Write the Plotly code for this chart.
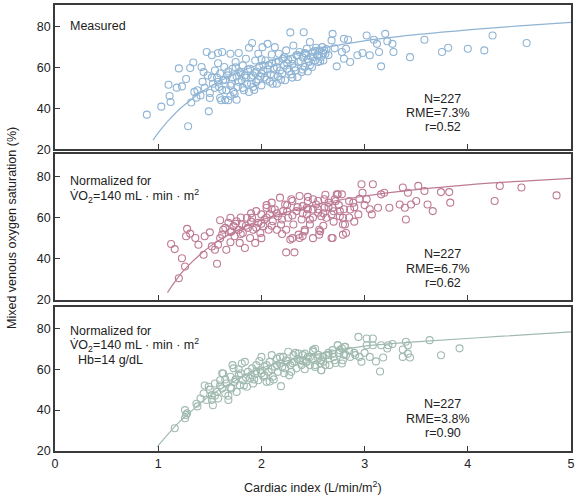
import plotly.graph_objects as go

# ---------------- Data ----------------
# Panel 1: Measured
meas_x = [0.89, 1.03, 1.10, 1.11, 1.12, 1.18, 1.20, 1.23, 1.27, 1.29, 1.31, 1.32, 1.34, 1.35, 1.37, 1.38,
          1.41, 1.42, 1.43, 1.44, 1.47, 1.49, 1.50, 1.52, 1.53, 1.55, 1.57, 1.58, 1.59, 1.61, 1.62, 1.63,
          1.64, 1.66, 1.67, 1.68, 1.70, 1.71, 1.72, 1.73, 1.75, 1.76, 1.76, 1.77, 1.78, 1.79, 1.81, 1.82,
          1.83, 1.84, 1.85, 1.86, 1.88, 1.89, 1.90, 1.91, 1.92, 1.94, 1.94, 1.95, 1.97, 1.98, 1.99, 2.00,
          2.01, 2.02, 2.04, 2.05, 2.06, 2.07, 2.09, 2.10, 2.11, 2.12, 2.13, 2.14, 2.16, 2.17, 2.18, 2.19,
          2.21, 2.22, 2.23, 2.24, 2.25, 2.26, 2.28, 2.29, 2.30, 2.31, 2.33, 2.34, 2.35, 2.36, 2.37, 2.39,
          2.40, 2.41, 2.42, 2.43, 2.44, 2.46, 2.47, 2.48, 2.49, 2.50, 2.52, 2.53, 2.54, 2.55, 2.56, 2.58,
          2.59, 2.60, 2.61, 2.62, 2.68, 2.69, 2.71, 2.73, 2.78, 2.80, 2.80, 2.82, 2.84, 2.86, 2.93, 2.98,
          3.02, 3.05, 3.09, 3.12, 3.14, 3.16, 3.20, 3.22, 3.27, 3.28, 3.44, 3.58, 3.75, 3.81, 4.00, 4.16,
          4.24, 4.57,
          1.52, 1.55, 1.58, 1.60, 1.62, 1.65, 1.68, 1.70, 1.72, 1.74, 1.78, 1.80, 1.82, 1.85, 1.87, 1.90,
          1.92, 1.95, 1.97, 2.00, 2.02, 2.03, 2.06, 2.08, 2.10, 2.12, 2.15, 2.17, 2.20, 2.22, 2.25, 2.27,
          2.30, 2.32, 2.35, 2.38, 2.40, 2.42, 2.45, 2.47, 2.50, 2.52, 2.55, 2.57, 2.60, 2.63, 2.65, 1.45,
          1.48, 1.50, 1.60, 1.65, 1.70, 1.58, 1.75, 2.00, 2.15, 2.30, 2.45, 1.88, 1.93]
meas_y = [36.9, 40.8, 51.5, 46.0, 43.1, 50.1, 59.5, 50.7, 54.3, 31.2, 59.7, 42.8, 62.4, 48.0, 45.2, 48.8,
          46.3, 60.2, 53.0, 57.7, 67.5, 38.5, 47.5, 65.9, 52.0, 58.5, 55.0, 67.0, 50.4, 43.9, 67.5, 53.7,
          60.2, 48.8, 56.1, 43.9, 66.7, 52.0, 59.3, 48.0, 62.6, 44.2, 55.6, 50.4, 67.0, 57.7, 53.7, 61.0,
          48.8, 56.1, 64.2, 52.0, 69.6, 59.3, 55.0, 71.9, 50.4, 63.4, 57.2, 52.8, 66.7, 60.2, 55.6, 51.2,
          69.9, 58.5, 63.4, 54.0, 71.5, 61.0, 56.6, 66.3, 52.0, 59.3, 69.9, 62.6, 55.6, 66.7, 58.5, 54.0,
          64.2, 61.0, 53.7, 68.3, 59.3, 63.7, 77.1, 56.6, 61.8, 70.7, 58.5, 65.9, 55.3, 62.6, 67.5, 57.7,
          64.9, 77.2, 60.2, 66.7, 69.1, 62.6, 72.4, 65.2, 60.2, 67.5, 63.4, 69.6, 65.9, 62.6, 68.3, 65.2,
          69.9, 63.4, 68.3, 66.7, 73.2, 76.4, 69.3, 60.5, 67.5, 64.2, 74.0, 69.1, 73.5, 62.6, 65.9, 67.0,
          75.6, 65.9, 73.5, 71.5, 67.5, 60.5, 76.4, 72.8, 71.5, 67.5, 65.0, 73.5, 67.5, 69.6, 69.1, 68.3,
          75.6, 71.9,
          55, 50, 53, 57, 49, 54, 58, 51, 55, 47, 53, 57, 50, 55, 59, 52,
          56, 58, 54, 57, 61, 55, 59, 53, 62, 56, 60, 63, 57, 65, 62, 58,
          64, 60, 66, 63, 59, 67, 64, 61, 65, 68, 66, 63, 67, 69, 66, 50,
          56, 45, 45, 44, 46, 62, 60, 64, 52, 55, 58, 48, 49]

# Panel 2: Normalized for VO2
nv_x = [1.125, 1.16, 1.23, 1.26, 1.20, 1.28, 1.27, 1.31, 1.36, 1.39, 1.45, 1.50, 1.44, 1.52, 1.55, 1.57,
        1.58, 1.60, 1.62, 1.63, 1.66, 1.68, 1.70, 1.71, 1.73, 1.74, 1.76, 1.78, 1.79, 1.81, 1.82, 1.84,
        1.86, 1.87, 1.89, 1.91, 1.92, 1.94, 1.95, 1.97, 1.99, 2.00, 2.02, 2.03, 2.05, 2.07, 2.08, 2.10,
        2.11, 2.13, 2.15, 2.16, 2.18, 2.19, 2.21, 2.23, 2.24, 2.24, 2.26, 2.28, 2.29, 2.31, 2.32, 2.34,
        2.36, 2.37, 2.39, 2.40, 2.42, 2.44, 2.45, 2.47, 2.50, 2.53, 2.57, 2.58, 2.61, 2.65, 2.68, 2.69,
        2.71, 2.74, 2.76, 2.78, 2.79, 2.81,
        2.44, 2.50, 2.55, 2.61, 2.63, 2.68, 2.69, 2.73, 2.76, 2.79, 2.82, 2.86, 2.89, 2.94, 2.97, 2.98,
        3.02, 3.07, 3.08, 3.13, 3.16, 3.19, 3.24, 3.34, 3.37, 3.39, 3.40, 3.42, 3.45, 3.50, 3.52, 3.58,
        3.61, 3.66, 3.74, 3.82, 3.83, 4.26, 4.31, 4.52, 4.86, 2.37, 2.42, 2.56, 2.56, 2.79, 2.47,
        1.65, 1.70, 1.75, 1.80, 1.85, 1.90, 1.95, 2.00, 2.05, 2.10, 2.15, 2.20, 2.25, 2.30, 2.35, 2.40,
        2.45, 2.50, 2.55, 2.60, 2.65, 2.70, 2.75, 2.80, 2.85, 2.90, 2.95, 3.00, 2.20, 2.30, 2.40, 2.50,
        2.60, 2.70, 1.60, 1.70, 2.00, 2.10, 2.25, 2.45, 2.62, 2.72, 1.80, 1.90, 2.05, 2.30, 2.55, 2.85,
        2.90, 3.05]
nv_y = [47.2, 44.7, 40.3, 36.3, 30.6, 54.5, 50.9, 52.2, 50.1, 46.8, 50.9, 52.8, 42.0, 46.0, 44.4, 37.6,
        46.8, 58.7, 51.7, 54.1, 44.4, 57.4, 59.9, 53.3, 55.8, 50.9, 58.2, 54.1, 47.7, 56.6, 52.5, 45.2,
        59.9, 55.0, 50.1, 59.9, 54.1, 47.7, 63.1, 57.4, 52.5, 61.5, 55.8, 59.0, 64.7, 54.1, 61.5, 67.2,
        58.2, 63.9, 54.1, 60.6, 69.6, 56.6, 63.1, 66.3, 43.1, 54.1, 59.9, 49.3, 68.8, 56.6, 43.1, 63.1,
        51.7, 70.4, 59.0, 65.5, 54.1, 61.5, 68.0, 56.6, 63.9, 66.3, 53.3, 60.6, 64.7, 67.2, 61.5, 50.1,
        68.8, 71.2, 63.1, 71.2, 59.9, 56.6,
        64.7, 68.8, 62.3, 68.8, 59.9, 50.1, 64.7, 71.2, 60.6, 51.7, 52.5, 63.9, 67.2, 61.5, 76.1, 72.0,
        68.8, 61.5, 76.1, 64.7, 71.2, 72.0, 64.7, 66.3, 74.5, 64.7, 59.0, 72.0, 66.3, 68.0, 75.3, 72.8,
        66.3, 63.1, 72.3, 72.3, 67.2, 68.0, 75.3, 74.5, 70.7, 50.1, 53.3, 54.1, 51.7, 56.6, 59.0,
        55, 53, 57, 52, 56, 58, 55, 57, 60, 56, 62, 59, 63, 61, 65, 62,
        64, 60, 64, 62, 65, 63, 66, 64, 68, 65, 69, 66, 52, 50, 51, 50,
        56, 58, 50, 48, 50, 64, 66, 70, 71, 68, 60, 62, 66, 68, 68, 60,
        58, 64]

# Panel 3: Normalized for VO2 and Hb
nh_x = [1.16, 1.26, 1.27, 1.28, 1.26, 1.37, 1.38, 1.41, 1.44, 1.47, 1.49, 1.52, 1.53, 1.55, 1.57, 1.58,
        1.60, 1.62, 1.63, 1.65, 1.66, 1.68, 1.70, 1.71, 1.73, 1.74, 1.76, 1.78, 1.79, 1.81, 1.82, 1.84,
        1.86, 1.87, 1.89, 1.91, 1.92, 1.94, 1.95, 1.97, 1.99, 2.00, 2.02, 2.03, 2.05, 2.07, 2.08, 2.10,
        2.11, 2.13, 2.15, 2.16, 2.18, 2.19, 2.21, 2.23, 2.24, 2.26, 2.28, 2.29, 2.31, 2.32, 2.34, 2.36,
        2.37, 2.39, 2.40, 2.44, 2.47, 2.50, 2.52, 2.55, 2.58, 2.60, 2.63, 2.66, 2.69, 2.71, 2.74, 2.76,
        2.78, 2.81, 2.82,
        2.42, 2.50, 2.43, 2.52, 2.58, 2.58, 2.65, 2.69, 2.74, 2.78, 2.79, 2.81, 2.86, 2.91, 2.94, 2.97,
        3.02, 3.02, 3.08, 3.08, 3.11, 3.15, 3.16, 3.18, 3.22, 3.23, 3.27, 3.37, 3.40, 3.42, 3.44, 3.63,
        3.74, 3.92, 3.42, 3.37,
        1.50, 1.55, 1.60, 1.65, 1.70, 1.75, 1.80, 1.85, 1.90, 1.95, 2.00, 2.05, 2.10, 2.15, 2.20, 2.25,
        2.30, 2.35, 2.40, 2.45, 2.50, 2.55, 2.60, 2.65, 2.70, 2.75, 2.80, 2.85, 2.90, 1.62, 1.72, 1.98,
        2.12, 2.27, 2.42, 2.62, 2.33, 2.52, 1.45, 1.52, 1.78, 2.08, 2.18, 2.47, 2.57, 2.72, 2.95, 3.00,
        3.05, 1.68, 1.83, 1.93, 2.03, 2.22]
nh_y = [31.1, 40.0, 37.6, 38.4, 36.0, 43.1, 41.8, 45.7, 48.1, 44.9, 51.4, 47.3, 42.4, 53.0, 48.9, 45.7,
        54.6, 50.6, 57.9, 48.1, 53.0, 44.9, 56.3, 50.6, 60.4, 53.8, 48.9, 57.1, 52.2, 62.8, 54.6, 63.6,
        51.4, 58.7, 55.5, 60.4, 53.0, 57.9, 62.0, 54.6, 59.5, 66.0, 56.3, 61.2, 53.8, 58.7, 63.6, 66.9,
        56.3, 61.2, 65.2, 58.7, 62.8, 51.7, 66.0, 60.4, 64.4, 68.5, 62.0, 58.7, 66.9, 63.6, 60.4, 67.7,
        64.4, 62.0, 66.9, 63.6, 66.0, 68.5, 62.0, 65.2, 59.5, 63.6, 66.9, 62.0, 67.7, 64.4, 71.7, 69.3,
        62.8, 70.9, 66.9,
        67.6, 69.3, 63.5, 61.1, 59.5, 64.4, 66.9, 69.3, 71.7, 70.1, 64.4, 70.9, 66.0, 66.9, 75.8, 63.6,
        71.7, 75.0, 75.0, 71.7, 63.8, 58.9, 71.7, 65.7, 70.1, 71.7, 72.3, 69.6, 73.4, 67.6, 65.7, 74.2,
        66.8, 70.2, 71.7, 66.0,
        50, 47, 52, 55, 51, 55, 58, 56, 57, 59, 58, 62, 60, 62, 61, 64,
        63, 65, 64, 66, 65, 67, 66, 68, 66, 68, 67, 69, 68, 58, 62, 64,
        55, 57, 60, 62, 68, 70, 52, 45, 60, 54, 66, 62, 63, 63, 66, 68,
        66, 47, 52, 55, 57, 58]

# Fitted curves
fit_meas_x = [0.95, 1.0, 1.1, 1.25, 1.5, 1.75, 2.0, 2.5, 3.0, 3.5, 4.0, 4.5, 5.0]
fit_meas_y = [24.4, 28.0, 34.1, 41.5, 50.5, 56.9, 61.8, 68.5, 73.0, 76.0, 78.3, 80.3, 82.0]
fit_nv_x = [1.09, 1.15, 1.25, 1.5, 1.75, 2.0, 2.5, 3.0, 3.5, 4.0, 4.5, 5.0]
fit_nv_y = [23.6, 28.1, 34.5, 45.9, 53.4, 58.8, 65.9, 70.4, 73.5, 75.8, 77.5, 78.9]
fit_nh_x = [0.99, 1.1, 1.2, 1.3, 1.5, 1.75, 2.0, 2.5, 3.0, 3.6, 4.3, 5.0]
fit_nh_y = [22.0, 28.5, 34.0, 38.5, 47.0, 54.5, 60.5, 67.0, 71.3, 73.7, 76.0, 78.2]

x_ticks = [0, 1, 2, 3, 4, 5]
y_ticks = [20, 40, 60, 80]

# ---------------- Styling ----------------
colors = ["rgb(143,180,212)", "rgb(190,122,148)", "rgb(160,186,176)"]
FONT = "Liberation Sans, Arial, Helvetica, sans-serif"
TXT = "#222222"
FRAME = "#3a3a3a"
FS = 12.5

panels = [
    (meas_x, meas_y, fit_meas_x, fit_meas_y),
    (nv_x, nv_y, fit_nv_x, fit_nv_y),
    (nh_x, nh_y, fit_nh_x, fit_nh_y),
]

fig = go.Figure()
for i, (px, py_, fx, fy) in enumerate(panels):
    xa = "x" if i == 0 else f"x{i+1}"
    ya = "y" if i == 0 else f"y{i+1}"
    fig.add_trace(go.Scatter(x=fx, y=fy, mode="lines", line=dict(color=colors[i], width=1.2, shape="spline"),
                             xaxis=xa, yaxis=ya, hoverinfo="skip", showlegend=False))
    fig.add_trace(go.Scatter(x=px, y=py_, mode="markers",
                             marker=dict(symbol="circle-open", size=7, color=colors[i], line=dict(width=1.1)),
                             xaxis=xa, yaxis=ya, showlegend=False))

# domains (paper fraction from bottom)
domains = [[0.6767, 1.0], [0.3383, 0.6648], [0.0, 0.3233]]

layout = dict(
    width=579, height=500,
    margin=dict(l=55, r=8, t=5, b=49, autoexpand=False),
    paper_bgcolor="white", plot_bgcolor="white",
    font=dict(family=FONT, size=FS, color=TXT),
    showlegend=False,
)
for i in range(3):
    xk = "xaxis" if i == 0 else f"xaxis{i+1}"
    yk = "yaxis" if i == 0 else f"yaxis{i+1}"
    ya = "y" if i == 0 else f"y{i+1}"
    xa = "x" if i == 0 else f"x{i+1}"
    tv = x_ticks if i == 2 else [1, 2, 3, 4]
    layout[xk] = dict(domain=[0, 1], range=[0, 5], anchor=ya, automargin=False,
                      tickvals=tv, ticktext=[str(t) for t in tv],
                      showticklabels=(i == 2), ticks="inside", ticklen=5, tickwidth=1, tickcolor=FRAME,
                      showline=True, mirror=True, linecolor=FRAME, linewidth=1.5,
                      showgrid=False, zeroline=False, tickfont=dict(size=FS, color=TXT))
    layout[yk] = dict(domain=domains[i], range=[20, 90.5], anchor=xa, automargin=False,
                      tickvals=y_ticks, ticktext=[str(t) for t in y_ticks],
                      ticks="inside", ticklen=5, tickwidth=1, tickcolor=FRAME,
                      showline=True, mirror=True, linecolor=FRAME, linewidth=1.5,
                      showgrid=False, zeroline=False, tickfont=dict(size=FS, color=TXT))
fig.update_layout(**layout)

ann = []
def txt(x, y, s, xanchor="left", size=FS):
    ann.append(dict(x=x, y=y, xref="paper", yref="paper", text=s, showarrow=False,
                    xanchor=xanchor, yanchor="middle", font=dict(family=FONT, size=size, color=TXT)))

def py(pix):  # pixel y from top -> paper fraction
    return (451 - pix) / 446.0
def pxp(pix):
    return (pix - 55) / 516.0

VO2 = "V\u0307O<sub>2</sub>=140 mL \u00b7 min \u00b7 m<sup>2</sup>"
txt(pxp(68), py(26), "Measured")
txt(pxp(68), py(181), "Normalized for")
txt(pxp(68), py(196), VO2)
txt(pxp(68), py(331), "Normalized for")
txt(pxp(68), py(345), VO2)
txt(pxp(76), py(360), "Hb=14 g/dL")

stats = [("N=227", "RME=7.3%", "r=0.52", [99, 113, 127]),
         ("N=227", "RME=6.7%", "r=0.62", [254, 269, 283]),
         ("N=227", "RME=3.8%", "r=0.90", [404, 419, 433])]
for a, b, c, ys in stats:
    txt(pxp(463), py(ys[0]), a, xanchor="right")
    txt(pxp(472), py(ys[1]), b, xanchor="right")
    txt(pxp(463), py(ys[2]), c, xanchor="right")

txt(pxp(313), py(487), "Cardiac index (L/min/m<sup>2</sup>)", xanchor="center")
ann.append(dict(x=pxp(12), y=py(228), xref="paper", yref="paper",
                text="Mixed venous oxygen saturation (%)", showarrow=False, textangle=-90,
                xanchor="center", yanchor="middle", font=dict(family=FONT, size=FS, color=TXT)))
fig.update_layout(annotations=ann)

fig.write_html("out.html", config={"displayModeBar": False},
               post_script="document.body.style.margin='0';document.body.style.padding='0';"
                           "document.documentElement.style.margin='0';")
